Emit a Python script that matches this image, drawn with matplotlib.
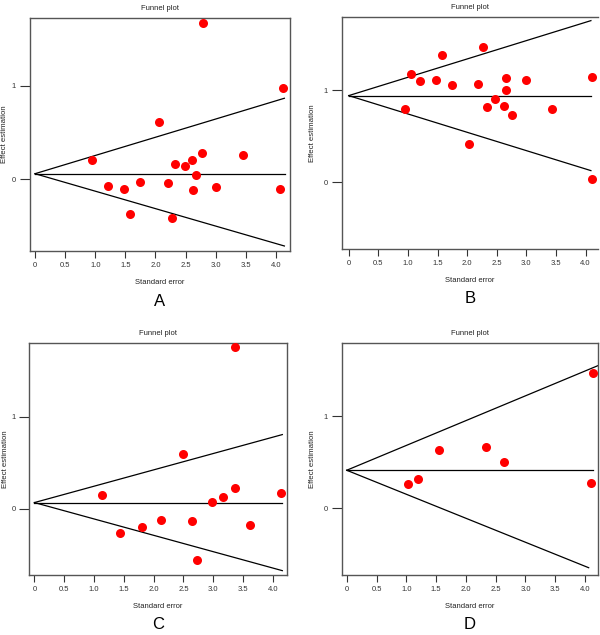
import matplotlib
matplotlib.use("Agg")
import matplotlib.pyplot as plt

plt.rcParams['font.family'] = ['Liberation Sans', 'DejaVu Sans']

# panel A
se_a = [2.79, 4.12, 2.06, 0.946, 2.78, 3.45, 2.61, 2.33, 2.49, 2.67,
        1.22, 1.47, 1.75, 2.21, 2.63, 3.01, 4.07, 1.58, 2.27]
eff_a = [1.68, 0.975, 0.609, 0.208, 0.276, 0.258, 0.208, 0.161, 0.143, 0.043,
         -0.072, -0.108, -0.036, -0.039, -0.122, -0.082, -0.108, -0.38, -0.423]
# center, mid end x, upper end (x, y), lower end (x, y)
funnel_a = [0.057, 4.15, (4.14, 0.868), (4.14, -0.72)]

# panel B
se_b = [2.27, 1.575, 1.05, 1.20, 1.474, 1.75, 2.19, 2.65, 3.00, 4.11,
        2.655, 2.47, 2.34, 2.63, 2.75, 0.951, 3.44, 2.03, 4.11]
eff_b = [1.467, 1.380, 1.178, 1.098, 1.112, 1.054, 1.065, 1.130, 1.109, 1.141,
         1.0, 0.902, 0.822, 0.833, 0.732, 0.797, 0.793, 0.420, 0.036]
funnel_b = [0.942, 4.09, (4.09, 1.757), (4.09, 0.127)]

# panel C
se_c = [3.36, 2.50, 1.136, 3.36, 3.17, 4.14, 2.98, 2.13, 2.65, 3.61, 1.80, 1.44, 2.72]
eff_c = [1.751, 0.592, 0.148, 0.231, 0.134, 0.173, 0.072, -0.119, -0.130, -0.173,
         -0.191, -0.256, -0.552]
funnel_c = [0.069, 4.16, (4.16, 0.805), (4.16, -0.668)]

# panel D
se_d = [4.13, 2.33, 1.544, 2.635, 1.197, 1.035, 4.095]
eff_d = [1.469, 0.671, 0.639, 0.502, 0.325, 0.271, 0.278]
funnel_d = [0.415, 4.13, (4.21, 1.549), (4.06, -0.643)]

xticks = [0, 0.5, 1.0, 1.5, 2.0, 2.5, 3.0, 3.5, 4.0]
xticklabels = ['0', '0.5', '1.0', '1.5', '2.0', '2.5', '3.0', '3.5', '4.0']

# letter, x, y, funnel, axes rect, xlim, ylim, ylabel x (axes fraction)
panels = [
    ('A', se_a, eff_a, funnel_a, [0.050, 0.6047, 0.433, 0.367], (-0.083, 4.23), (-0.774, 1.731), -0.083),
    ('B', se_b, eff_b, funnel_b, [0.570, 0.6083, 0.4267, 0.365], (-0.113, 4.21), (-0.722, 1.797), -0.100),
    ('C', se_c, eff_c, funnel_c, [0.049, 0.0945, 0.429, 0.365], (-0.084, 4.235), (-0.715, 1.794), -0.081),
    ('D', se_d, eff_d, funnel_d, [0.5695, 0.0945, 0.4275, 0.365], (-0.084, 4.22), (-0.722, 1.794), -0.100),
]

fig = plt.figure(figsize=(6, 6.35), dpi=100)

for letter, se, eff, fun, pos, xl, yl, ylx in panels:
    ax = fig.add_axes(pos)
    center, mid_end, up, lo = fun
    ax.plot([0, mid_end], [center, center], color='black', lw=0.9)
    ax.plot([0, up[0]], [center, up[1]], color='black', lw=0.9)
    ax.plot([0, lo[0]], [center, lo[1]], color='black', lw=0.9)
    ax.plot(se, eff, 'o', color='#ff0000', markersize=6.5, markeredgewidth=0,
            zorder=3, clip_on=False)
    ax.set_xlim(*xl)
    ax.set_ylim(*yl)
    ax.set_xticks(xticks)
    ax.set_xticklabels(xticklabels)
    ax.set_yticks([0, 1])
    ax.set_yticklabels(['0', '1'])
    ax.tick_params(axis='x', length=5, width=0.8, pad=3, labelsize=5.5, colors='#333333')
    ax.tick_params(axis='y', length=7, width=0.8, pad=3, labelsize=5.5, colors='#333333')
    for s in ax.spines.values():
        s.set_color('#555555')
        s.set_linewidth(1.0)
    if letter == 'B':
        ax.spines['right'].set_visible(False)
    ax.set_title('Funnel plot', fontsize=5.5, pad=6, color='#222222')
    ax.set_xlabel('Standard error', fontsize=5.5, labelpad=7, color='#222222')
    ax.set_ylabel('Effect estimation', fontsize=5.6, color='#222222')
    ax.yaxis.set_label_coords(ylx, 0.5)
    ax.text(0.5, -0.215, letter, transform=ax.transAxes, ha='center', va='center',
            fontsize=12)

fig.savefig('out.png', dpi=100)
